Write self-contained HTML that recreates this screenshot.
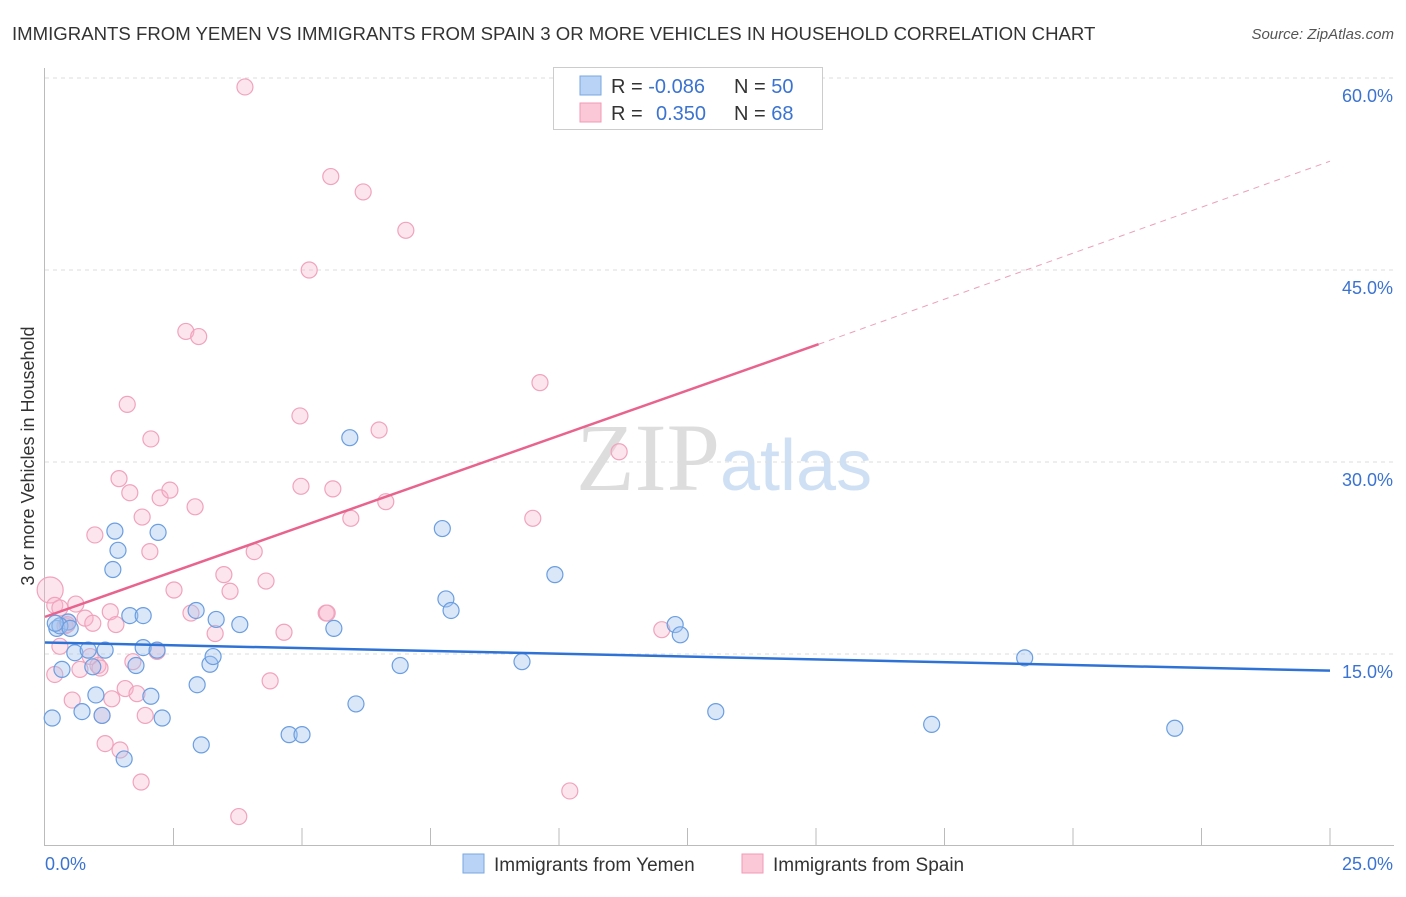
<!DOCTYPE html>
<html><head><meta charset="utf-8"><style>
body{margin:0;background:#fff;font-family:"Liberation Sans",sans-serif;}
</style></head><body>
<svg id="c" width="1406" height="892" xmlns="http://www.w3.org/2000/svg" font-family="Liberation Sans, sans-serif">
<text x="12" y="40" font-size="18.6" fill="#333">IMMIGRANTS FROM YEMEN VS IMMIGRANTS FROM SPAIN 3 OR MORE VEHICLES IN HOUSEHOLD CORRELATION CHART</text>
<text x="1394" y="39" font-size="15" fill="#555" font-style="italic" text-anchor="end">Source: ZipAtlas.com</text>
<text x="720" y="490" font-size="96" fill="#ddd" text-anchor="end" font-family="Liberation Serif, serif">ZIP</text>
<text x="720" y="490" font-size="72" fill="#cfe0f5">atlas</text>
<g id="grid"></g><g id="axes"></g><g id="pts"></g><g id="trend"></g>
<g>
<rect x="553.5" y="67.5" width="269" height="62" fill="#fff" stroke="#ccc"/>
<rect x="580" y="76" width="21" height="19" fill="#b8d3f5" stroke="#7aa7e0"/>
<rect x="580" y="103" width="21" height="19" fill="#fbc8d7" stroke="#f09ab5"/>
<text x="611" y="93" font-size="20" fill="#333">R = <tspan fill="#3b73d0">-0.086</tspan></text>
<text x="734" y="93" font-size="20" fill="#333">N = <tspan fill="#3b73d0">50</tspan></text>
<text x="611" y="120" font-size="20" fill="#333">R = <tspan fill="#3b73d0" x="656">0.350</tspan></text>
<text x="734" y="120" font-size="20" fill="#333">N = <tspan fill="#3b73d0">68</tspan></text>
</g>
<text transform="translate(34,456) rotate(-90)" font-size="18" fill="#333" text-anchor="middle">3 or more Vehicles in Household</text>
<g>
<rect x="463" y="854" width="21" height="19" fill="#b8d3f5" stroke="#7aa7e0"/>
<text x="494" y="871" font-size="19" fill="#333">Immigrants from Yemen</text>
<rect x="742" y="854" width="21" height="19" fill="#fbc8d7" stroke="#f09ab5"/>
<text x="773" y="871" font-size="19" fill="#333">Immigrants from Spain</text>
</g>
</svg>
<script>
const yTicks=[15,30,45,60];
const yTickLabels=["15.0%","30.0%","45.0%","60.0%"];
const xTickCount=10;
const yemenX=[0.14,0.23,0.33,0.45,0.58,0.72,0.84,0.93,0.99,1.11,1.17,1.32,1.36,1.42,1.54,1.65,1.77,1.91,1.91,2.06,2.18,2.20,2.28,2.94,2.96,3.04,3.21,3.27,3.33,3.79,4.75,5.00,5.62,5.93,6.05,6.91,7.73,7.80,7.90,9.28,9.92,12.26,12.36,13.05,17.25,19.06,21.98,0.29,0.49,0.20];
const yemenY=[10.0,17.0,13.8,17.5,15.1,10.5,15.3,14.0,11.8,10.2,15.3,21.6,24.6,23.1,6.8,18.0,14.1,18.0,15.5,11.7,15.3,24.5,10.0,18.4,12.6,7.9,14.2,14.8,17.7,17.3,8.7,8.7,17.0,31.9,11.1,14.1,24.8,19.3,18.4,14.4,21.2,17.3,16.5,10.5,9.5,14.7,9.2,17.2,17.0,17.4];
const spainX=[0.10,0.19,0.19,0.29,0.39,0.45,0.53,0.60,0.68,0.78,0.88,0.97,1.03,1.07,1.11,1.17,1.27,1.30,1.38,1.46,1.44,1.56,1.60,1.65,1.71,1.79,1.87,1.89,1.95,2.04,2.06,2.18,2.24,2.43,2.51,2.74,2.84,2.92,2.99,3.31,3.48,3.60,3.77,3.89,4.07,4.30,4.38,4.65,4.96,4.98,5.14,5.47,5.49,5.56,5.60,5.95,6.19,6.50,6.63,7.02,9.49,9.63,10.21,11.17,12.00,0.43,0.93,0.29];
const spainY=[20.0,18.8,13.4,15.6,17.2,17.5,11.4,18.9,13.8,17.8,14.8,24.3,14.1,13.9,10.2,8.0,18.3,11.5,17.3,7.5,28.7,12.3,34.5,27.6,14.4,11.9,5.0,25.7,10.2,23.0,31.8,15.2,27.2,27.8,20.0,40.2,18.2,26.5,39.8,16.6,21.2,19.9,2.3,59.3,23.0,20.7,12.9,16.7,33.6,28.1,45.0,18.2,18.2,52.3,27.9,25.6,51.1,32.5,26.9,48.1,25.6,36.2,4.3,30.8,16.9,17.3,17.4,18.6];
const yemenTrend=[0,15.9,25,13.7];
const spainTrend=[0,17.9,15.05,39.2,25,53.5];
const ns="http://www.w3.org/2000/svg";
const X=v=>45+v/25*1285, Y=v=>846-v/15*192;
function mk(t,a,p){const e=document.createElementNS(ns,t);for(const k in a)e.setAttribute(k,a[k]);p.appendChild(e);return e;}
const g=document.getElementById('grid'),ax=document.getElementById('axes');
yTicks.forEach((t,i)=>{const l=mk('line',{x1:45,x2:1394,y1:Y(t),y2:Y(t),stroke:'#ddd','stroke-dasharray':'4,4'},g);


const tx=mk('text',{x:1393,y:Y(t)+24,'font-size':18,fill:'#3b73d0','text-anchor':'end'},ax);tx.textContent=yTickLabels[i];

});
const yl=mk('line',{x1:44.5,x2:44.5,y1:68,y2:846,stroke:'#bbb'},ax);


const xl=mk('line',{x1:45,x2:1394,y1:845.5,y2:845.5,stroke:'#bbb'},ax);


for(let i=1;i<=xTickCount;i++){const t=mk('line',{x1:X(i*2.5),x2:X(i*2.5),y1:828,y2:846,stroke:'#bbb'},ax);

}
[["0.0%",45,'start'],["25.0%",1393,'end']].forEach(d=>{const t=mk('text',{x:d[1],y:870,'font-size':18,fill:'#3b73d0','text-anchor':d[2]},ax);t.textContent=d[0];

});
const P=document.getElementById('pts');
spainX.forEach((x,i)=>{const c=mk('circle',{cx:X(x),cy:Y(spainY[i]),r:i==0?13:8,fill:'rgba(248,180,202,0.35)',stroke:'#f0a3bd','stroke-width':1.2},P);

});
yemenX.forEach((x,i)=>{const c=mk('circle',{cx:X(x),cy:Y(yemenY[i]),r:8,fill:'rgba(160,195,240,0.4)',stroke:'#6b9ee0','stroke-width':1.2},P);

});
const T=document.getElementById('trend');
let l1=mk('line',{x1:X(yemenTrend[0]),y1:Y(yemenTrend[1]),x2:X(yemenTrend[2]),y2:Y(yemenTrend[3]),stroke:'#2f72d6','stroke-width':2.5},T);


let l2=mk('line',{x1:X(spainTrend[0]),y1:Y(spainTrend[1]),x2:X(spainTrend[2]),y2:Y(spainTrend[3]),stroke:'#e8638e','stroke-width':2.5},T);


let l3=mk('line',{x1:X(spainTrend[2]),y1:Y(spainTrend[3]),x2:X(spainTrend[4]),y2:Y(spainTrend[5]),stroke:'#eba0b8','stroke-width':1,'stroke-dasharray':'6,5'},T);


</script>
</body></html>
